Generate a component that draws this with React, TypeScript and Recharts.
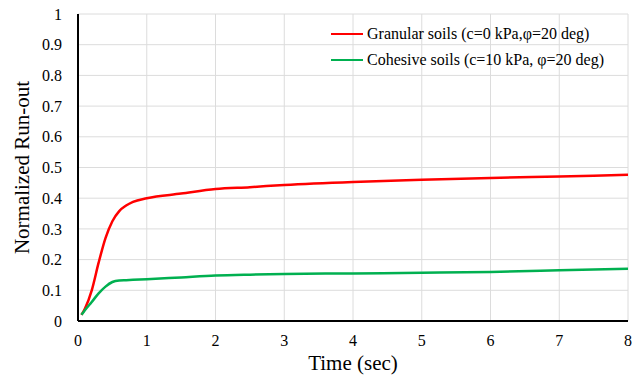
import {
    LineChart, Line, XAxis, YAxis, CartesianGrid
} from "recharts"

const times = [0.05, 0.1, 0.2, 0.3, 0.4, 0.5, 0.6, 0.7, 0.8, 1, 1.5, 2, 2.5, 3, 4, 5, 6, 7, 8]
const granular = [0.02, 0.04, 0.1, 0.19, 0.27, 0.325, 0.358, 0.376, 0.388, 0.4, 0.415, 0.43, 0.436, 0.443, 0.453, 0.46, 0.466, 0.471, 0.476]
const cohesive = [0.02, 0.035, 0.062, 0.09, 0.112, 0.127, 0.132, 0.133, 0.134, 0.136, 0.142, 0.148, 0.151, 0.153, 0.155, 0.157, 0.16, 0.165, 0.17]
const xTicks = [0, 1, 2, 3, 4, 5, 6, 7, 8]
const yTicks = [0, 0.1, 0.2, 0.3, 0.4, 0.5, 0.6, 0.7, 0.8, 0.9, 1]

const seriesNames = {
    granular: "Granular soils (c=0 kPa,\u03c6=20 deg)",
    cohesive: "Cohesive soils (c=10 kPa, \u03c6=20 deg)",
}

const data = times.map((t, i) => ({ t, granular: granular[i], cohesive: cohesive[i] }))

const font = "'Liberation Serif', 'Times New Roman', serif"

function LegendBox() {
    const items = [
        { name: seriesNames.granular, color: "#ff0000" },
        { name: seriesNames.cohesive, color: "#00b050" },
    ]
    return (
        <div style={{ position: "absolute", left: 331, top: 21, fontFamily: font, fontSize: 16, color: "#000", whiteSpace: "nowrap" }}>
            {items.map(it => (
                <div key={it.name} style={{ display: "flex", alignItems: "center", height: 26 }}>
                    <span style={{ display: "inline-block", width: 32, height: 2.5, background: it.color, marginRight: 4 }} />
                    <span>{it.name}</span>
                </div>
            ))}
        </div>
    )
}

export default function App() {
    return (
        <div style={{ position: "absolute", left: 0, top: 0, width: 641, height: 379, background: "#fff" }}>
            <LineChart width={641} height={379} data={data} margin={{ top: 14, right: 13, bottom: 0, left: 0 }}>
                <CartesianGrid stroke="#dcdcdc" strokeWidth={1} />
                <XAxis
                    dataKey="t" type="number" domain={[0, 8]} ticks={xTicks} height={58}
                    axisLine={{ stroke: "#000", strokeWidth: 2 }} tickLine={false}
                    tick={{ fontSize: 16, fill: "#000", fontFamily: font }} tickMargin={8}
                    label={{ value: "Time (sec)", position: "insideBottom", offset: 9, fontSize: 21, fill: "#000", fontFamily: font }}
                />
                <YAxis
                    type="number" domain={[0, 1]} ticks={yTicks} width={78}
                    axisLine={{ stroke: "#000", strokeWidth: 2 }} tickLine={false}
                    tick={{ fontSize: 16, fill: "#000", fontFamily: font }} tickMargin={10}
                    tickFormatter={(v: number) => String(v)}
                    label={{ value: "Normalized Run-out", angle: -90, position: "insideLeft", offset: 22, style: { textAnchor: "middle" }, fontSize: 21, fill: "#000", fontFamily: font }}
                />
                <Line type="monotone" dataKey="granular" name={seriesNames.granular} stroke="#ff0000" strokeWidth={2.5} dot={false} isAnimationActive={false} />
                <Line type="monotone" dataKey="cohesive" name={seriesNames.cohesive} stroke="#00b050" strokeWidth={2.5} dot={false} isAnimationActive={false} />
            </LineChart>
            <LegendBox />
        </div>
    )
}
